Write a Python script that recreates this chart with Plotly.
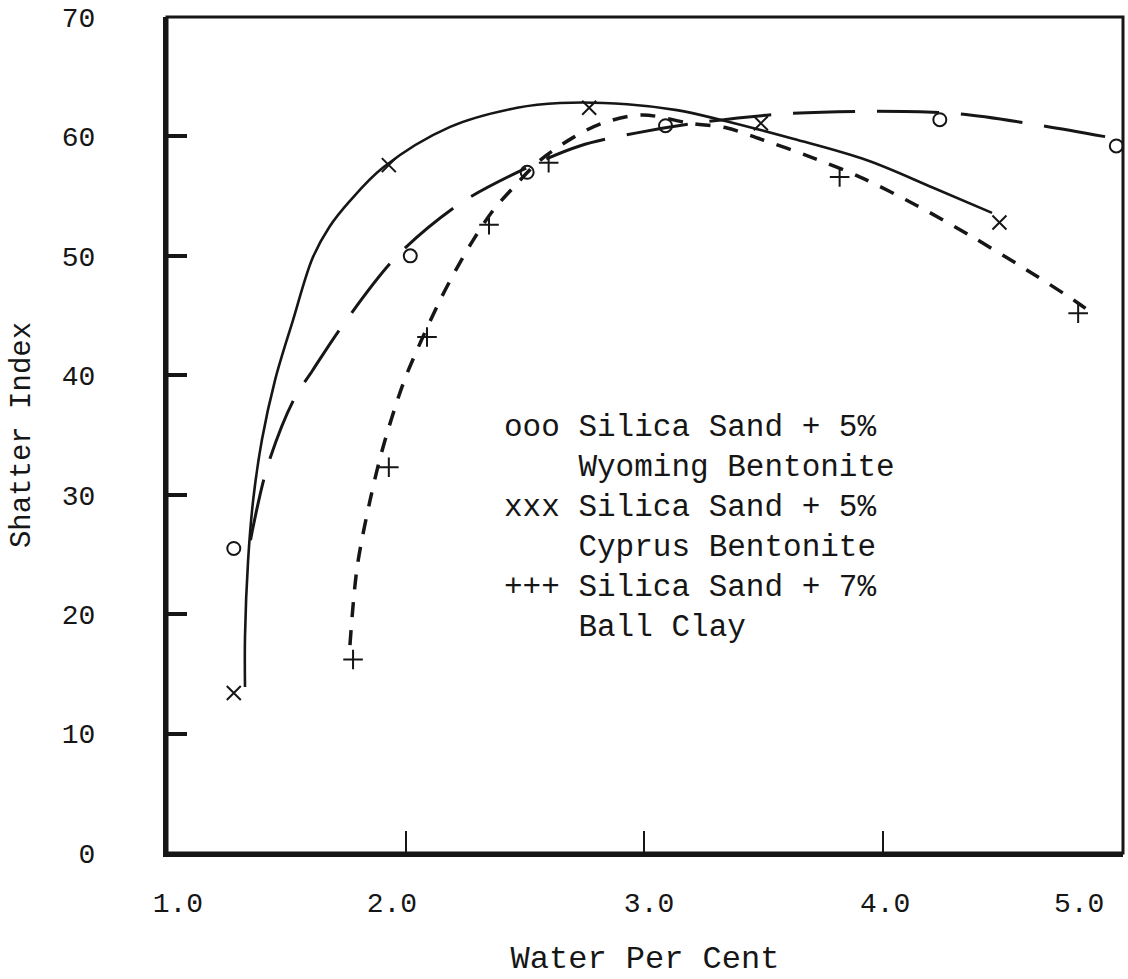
import plotly.graph_objects as go

# ---- Data points (typed markers) ----
WYO_X = [1.28, 2.02, 2.51, 3.09, 4.24, 4.98]
WYO_Y = [25.5, 50.0, 57.0, 60.9, 61.4, 59.2]
CYP_X = [1.28, 1.93, 2.77, 3.49, 4.49]
CYP_Y = [13.4, 57.6, 62.4, 61.1, 52.8]
BALL_X = [1.78, 1.93, 2.09, 2.35, 2.60, 3.82, 4.82]
BALL_Y = [16.2, 32.3, 43.2, 52.6, 57.8, 56.6, 45.2]

# ---- Hand-drawn fitted curves ----
WYO_CURVE_X = [1.35, 1.42, 1.53, 1.61, 1.73, 1.96, 2.23, 2.49, 2.73, 2.97, 3.21, 3.59, 3.97, 4.32, 4.67, 5.01]
WYO_CURVE_Y = [26.2, 32.3, 37.9, 40.4, 44.0, 49.9, 54.4, 57.2, 59.2, 60.3, 61.1, 61.9, 62.1, 61.9, 60.9, 59.7]
CYP_CURVE_X = [1.327, 1.327, 1.340, 1.361, 1.398, 1.453, 1.528, 1.610, 1.680, 1.767, 1.906, 2.187, 2.468, 2.648, 2.929, 3.138, 3.319, 3.625, 3.935, 4.212, 4.459]
CYP_CURVE_Y = [13.9, 18.1, 24.5, 29.5, 34.6, 39.6, 44.6, 49.8, 52.4, 54.6, 57.4, 60.8, 62.4, 62.8, 62.7, 62.2, 61.4, 59.8, 58.0, 55.7, 53.6]
BALL_CURVE_X = [1.767, 1.797, 1.851, 1.906, 1.990, 2.048, 2.145, 2.216, 2.283, 2.367, 2.451, 2.564, 2.702, 2.824, 2.992, 3.193, 3.348, 3.499, 3.683, 3.906, 4.145, 4.367, 4.606, 4.816, 4.878]
BALL_CURVE_Y = [17.4, 23.9, 29.5, 34.0, 39.3, 42.1, 46.3, 49.0, 51.3, 53.8, 55.7, 58.0, 59.9, 61.1, 61.8, 61.1, 60.7, 59.7, 58.4, 56.6, 54.2, 51.7, 48.8, 46.1, 45.2]

# ---- Axis labels / ticks ----
X_TICKS = [2, 3, 4]
X_TICK_LABELS = ["1.0", "2.0", "3.0", "4.0", "5.0"]
Y_TICKS = [0, 10, 20, 30, 40, 50, 60, 70]
Y_TICK_LABELS = ["0", "10", "20", "30", "40", "50", "60", "70"]
X_TITLE = "Water Per Cent"
Y_TITLE = "Shatter Index"

# ---- Typed key ----
KEY_BLOCKS = [
    ["ooo Silica Sand + 5%", "    Wyoming Bentonite"],
    ["xxx Silica Sand + 5%", "    Cyprus Bentonite"],
    ["+++ Silica Sand + 7%", "    Ball Clay"],
]

INK = "#161616"
FONT = "Liberation Mono, Courier New, monospace"

fig = go.Figure()

fig.add_trace(go.Scatter(x=CYP_CURVE_X, y=CYP_CURVE_Y, mode="lines",
                         line=dict(color=INK, width=2.6, shape="spline", smoothing=1.0),
                         hoverinfo="skip"))
fig.add_trace(go.Scatter(x=WYO_CURVE_X, y=WYO_CURVE_Y, mode="lines",
                         line=dict(color=INK, width=3, dash="62px,22px", shape="spline", smoothing=0.9),
                         hoverinfo="skip"))
fig.add_trace(go.Scatter(x=BALL_CURVE_X, y=BALL_CURVE_Y, mode="lines",
                         line=dict(color=INK, width=3.5, dash="15px,13px", shape="spline", smoothing=0.9),
                         hoverinfo="skip"))

fig.add_trace(go.Scatter(x=WYO_X, y=WYO_Y, mode="markers", name="Wyoming",
                         marker=dict(symbol="circle-open", size=13, color=INK, line=dict(width=2))))
fig.add_trace(go.Scatter(x=CYP_X, y=CYP_Y, mode="markers", name="Cyprus",
                         marker=dict(symbol="x-thin-open", size=14, color=INK, line=dict(width=2))))
fig.add_trace(go.Scatter(x=BALL_X, y=BALL_Y, mode="markers", name="Ball Clay",
                         marker=dict(symbol="cross-thin-open", size=14, color=INK, line=dict(width=2))))

# empty trace to anchor the label axis
fig.add_trace(go.Scatter(x=[], y=[], xaxis="x2", yaxis="y", hoverinfo="skip", showlegend=False))

XR = [1.0, 5.008]

fig.update_layout(
    width=1128, height=979,
    margin=dict(l=167, r=5, t=17, b=126),
    plot_bgcolor="white", paper_bgcolor="white",
    showlegend=False,
    font=dict(family=FONT, color=INK),
    xaxis=dict(range=XR, showline=True, linewidth=4, linecolor=INK, automargin=False,
               ticks="inside", tickvals=X_TICKS, ticklen=22, tickwidth=2, tickcolor=INK,
               showticklabels=False, showgrid=False, zeroline=False),
    xaxis2=dict(range=XR, overlaying="x", side="bottom", anchor="y", automargin=False,
                tickvals=[1.046, 1.943, 3.021, 4.011, 4.824], ticktext=X_TICK_LABELS,
                ticks="", showline=False, showgrid=False, zeroline=False,
                tickfont=dict(size=28, family=FONT, color=INK), ticklabelstandoff=30,
                title=dict(text=X_TITLE, font=dict(size=32, family=FONT, color=INK), standoff=26)),
    yaxis=dict(range=[0, 70], showline=True, linewidth=4, linecolor=INK, automargin=False,
               ticks="inside", tickvals=Y_TICKS, ticktext=Y_TICK_LABELS, ticklen=20, tickwidth=4,
               tickcolor=INK, showgrid=False, zeroline=False,
               tickfont=dict(size=28, family=FONT, color=INK), ticklabelstandoff=62,
               title=dict(text=Y_TITLE, font=dict(size=29, family=FONT, color=INK), standoff=24)),
    shapes=[dict(type="rect", xref="paper", yref="paper", x0=0, x1=1, y0=0, y1=1,
                 line=dict(color=INK, width=3), layer="above")],
)

key_y = [33.95, 27.25, 20.55]
for block, yy in zip(KEY_BLOCKS, key_y):
    txt = "<br>".join(line.replace(" ", "\u00a0") for line in block)
    fig.add_annotation(x=2.405, y=yy, xref="x", yref="y", xanchor="left", yanchor="middle",
                       align="left", text=txt, showarrow=False,
                       font=dict(size=31, family=FONT, color=INK))

# remove the page's default body margin so the 1128x979 figure fills the window exactly
fig.write_html("out.html",
               config={"displayModeBar": False},
               post_script="document.body.style.margin='0';document.body.style.overflow='hidden';")
